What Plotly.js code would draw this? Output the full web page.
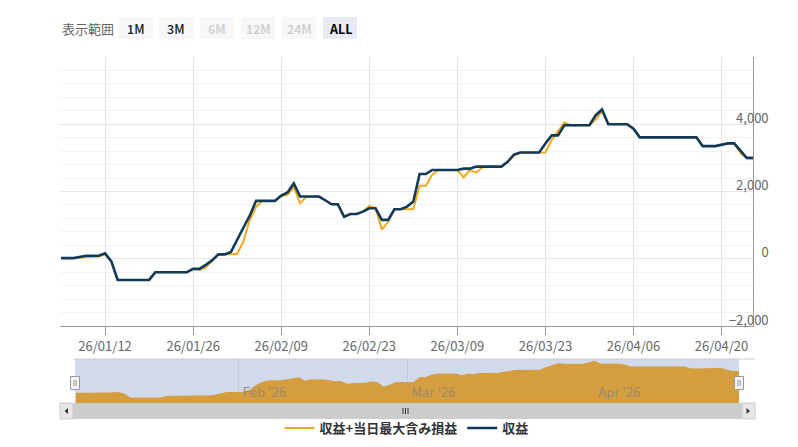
<!DOCTYPE html>
<html><head><meta charset="utf-8">
<script src="https://cdn.plot.ly/plotly-3.0.1.min.js"></script>
<style>html,body{margin:0;padding:0;background:#fff}#chart{width:798px;height:447px}</style>
</head><body><div id="chart"></div>
<script>
// ---- data ----
const dates = ['2026-01-05','2026-01-07','2026-01-09','2026-01-11','2026-01-12','2026-01-13','2026-01-14','2026-01-19','2026-01-20','2026-01-25','2026-01-26','2026-01-27','2026-01-28','2026-01-29','2026-01-30','2026-01-31','2026-02-01','2026-02-02','2026-02-03','2026-02-04','2026-02-05','2026-02-06','2026-02-08','2026-02-09','2026-02-10','2026-02-11','2026-02-12','2026-02-13','2026-02-15','2026-02-16','2026-02-17','2026-02-18','2026-02-19','2026-02-20','2026-02-21','2026-02-22','2026-02-23','2026-02-24','2026-02-25','2026-02-26','2026-02-27','2026-02-28','2026-03-01','2026-03-02','2026-03-03','2026-03-04','2026-03-05','2026-03-06','2026-03-09','2026-03-10','2026-03-11','2026-03-12','2026-03-13','2026-03-16','2026-03-17','2026-03-18','2026-03-19','2026-03-22','2026-03-23','2026-03-24','2026-03-25','2026-03-26','2026-03-27','2026-03-30','2026-03-31','2026-04-01','2026-04-02','2026-04-05','2026-04-06','2026-04-07','2026-04-16','2026-04-17','2026-04-19','2026-04-20','2026-04-21','2026-04-22','2026-04-23','2026-04-24','2026-04-25'];
const profit = [20,20,90,90,160,-80,-630,-630,-400,-400,-300,-300,-180,-50,130,130,200,580,930,1280,1720,1720,1720,1880,1970,2240,1850,1850,1850,1740,1620,1620,1250,1330,1330,1400,1500,1500,1155,1155,1470,1470,1550,1700,2520,2520,2640,2640,2640,2680,2680,2740,2740,2740,2880,3100,3160,3160,3430,3670,3670,3970,3970,3970,4270,4440,4000,4000,3870,3610,3610,3350,3350,3390,3430,3430,3230,3000,3000];
const profitPlusMaxDD = [20,20,50,70,130,-80,-630,-630,-400,-400,-300,-330,-260,-60,130,130,130,150,520,1150,1540,1720,1720,1860,1900,2130,1650,1840,1850,1740,1620,1620,1250,1330,1330,1400,1570,1500,870,1100,1470,1470,1470,1470,2170,2170,2500,2640,2640,2420,2640,2560,2720,2740,2880,3060,3150,3160,3160,3530,3800,4050,3970,3970,4150,4390,4000,4000,3870,3610,3610,3350,3350,3390,3430,3430,3150,2990,2980];
const seriesNames = ['収益+当日最大含み損益','収益'];
const yTickVals = [-2000,0,2000,4000,6000];
const yTickText = ['\u22122,000','0','2,000','4,000',''];
const rangeLabel = '表示範囲';
const rangeButtons = ['1M','3M','6M','12M','24M','ALL'];
const rangeEnabled = [true,true,false,false,false,true];
const selectedButton = 'ALL';
const navMin = -1300, navMax = 4700;
const xRange = ['2026-01-04 20:00','2026-04-25'];

// ---- layout helpers ----
const W=798,H=447,L=60,R=45,T=57,B=0;
const pw=W-L-R, ph=H-T-B;
const px = x => (x-L)/pw;
const py = y => (H-B-y)/ph;
const FONT = "'Noto Sans CJK JP', 'Noto Sans', sans-serif";

const ORANGE='#F2A81D', NAVY='#0F3A5A', NAVFILL='#D49D3D';

const traces = [
  {x:dates, y:profitPlusMaxDD, name:seriesNames[0], type:'scatter', mode:'lines',
   line:{color:ORANGE, width:2}, xaxis:'x', yaxis:'y'},
  {x:dates, y:profit, name:seriesNames[1], type:'scatter', mode:'lines',
   line:{color:NAVY, width:2.6}, xaxis:'x', yaxis:'y'},
  {x:[dates[0], dates[dates.length-1]], y:[navMin, navMin], type:'scatter', mode:'lines',
   line:{width:0, color:NAVFILL}, showlegend:false, hoverinfo:'skip', xaxis:'x2', yaxis:'y2'},
  {x:dates, y:profitPlusMaxDD, type:'scatter', mode:'lines', fill:'tonexty',
   fillcolor:NAVFILL, line:{color:NAVFILL, width:1}, showlegend:false, hoverinfo:'skip',
   xaxis:'x2', yaxis:'y2'}
];

const shapes = [];
const annotations = [];
function rect(x0,y0,x1,y1,fill,lineColor,layer){
  shapes.push({type:'rect', xref:'paper', yref:'paper', x0:px(x0), x1:px(x1), y0:py(y1), y1:py(y0),
    fillcolor:fill, line:{width:lineColor?1:0, color:lineColor||fill}, layer:layer||'above'});
}
function line(x0,y0,x1,y1,color,w,layer){
  shapes.push({type:'line', xref:'paper', yref:'paper', x0:px(x0), x1:px(x1), y0:py(y0), y1:py(y1),
    line:{color:color, width:w||1}, layer:layer||'above'});
}
function tri(pts,color){
  const d = pts.map((p,i)=>(i?'L':'M')+px(p[0])+','+py(p[1])).join(' ')+' Z';
  shapes.push({type:'path', xref:'paper', yref:'paper', path:d, fillcolor:color, line:{width:0}});
}

// navigator background (mask)
rect(75,359,739,403,'#d1daed',null,'below');
line(73,359,755,359,'#cccccc',1);
// scrollbar
rect(60,403,755,419,'#f2f2f2',null);
rect(73,403,742,419,'#cccccc',null);
rect(60,403,73,419,'#e6e6e6','#cccccc');
rect(742,403,755,419,'#e6e6e6','#cccccc');
tri([[68,408],[68,414],[64.5,411]],'#333');
tri([[746.5,408],[746.5,414],[750,411]],'#333');
[403,405.5,408].forEach(x=>line(x,408,x,414,'#333',1));
// navigator handles
[75,739].forEach(cx=>{
  rect(cx-4.5,376.5,cx+4.5,389.5,'#f2f2f2','#999999');
  line(cx-1,380,cx-1,386,'#999999',1);
  line(cx+1,380,cx+1,386,'#999999',1);
});

// range selector
annotations.push({xref:'paper', yref:'paper', x:px(60), y:py(28), xanchor:'left', yanchor:'middle',
  text:rangeLabel, showarrow:false, font:{size:13, color:'#666', family:FONT}});
const btnX = [119,159,200,241,282,323];
rangeButtons.forEach((b,i)=>{
  const sel = b===selectedButton;
  rect(btnX[i],17,btnX[i]+34,39, sel?'#e6ebf5':'#f7f7f7', null);
  annotations.push({xref:'paper', yref:'paper', x:px(btnX[i]+17), y:py(28), xanchor:'center', yanchor:'middle',
    text:b, showarrow:false,
    font:{size:12.5, family:FONT, color: sel?'#000':(rangeEnabled[i]?'#222':'#cccccc'), weight: sel?'bold':500}});
});

const layout = {
  width:W, height:H, margin:{l:L, r:R, t:T, b:B, pad:0},
  paper_bgcolor:'#fff', plot_bgcolor:'rgba(0,0,0,0)',
  font:{family:FONT, color:'#666'},
  hovermode:false, dragmode:false,
  xaxis:{domain:[0,1], anchor:'y', type:'date', range:xRange,
    tick0:'2026-01-12', dtick:14*86400000, tickformat:'%y/%m/%d',
    showgrid:true, gridcolor:'#e6e6e6', gridwidth:1,
    showline:true, linecolor:'#999', linewidth:1,
    ticks:'outside', ticklen:8, tickcolor:'#999', tickwidth:1,
    tickfont:{size:13, color:'#666'}, zeroline:false, fixedrange:true, automargin:false},
  yaxis:{domain:[py(326),1], anchor:'x', side:'right', range:[-2000,6000],
    tickmode:'array', tickvals:yTickVals, ticktext:yTickText,
    showgrid:true, gridcolor:'#e6e6e6', gridwidth:1,
    minor:{dtick:400, tick0:0, showgrid:true, gridcolor:'#f3f3f3', ticks:''},
    showline:true, linecolor:'#999', linewidth:1, ticks:'',
    ticklabelposition:'inside', ticklabelstandoff:-16, ticklabelshift:-6, ticklabeloverflow:'allow',
    tickfont:{size:13, color:'#666'}, zeroline:false, fixedrange:true, automargin:false},
  xaxis2:{domain:[px(75), px(739)], anchor:'y2', type:'date', range:xRange,
    tick0:'2026-01-01', dtick:'M1', tickformat:"%b '%y",
    showgrid:true, gridcolor:'#c0c9db', ticks:'', showline:false, zeroline:false,
    ticklabelposition:'inside right', ticklabelshift:4, ticklabelstandoff:-3, ticklabeloverflow:'allow',
    tickfont:{size:13, color:'#9c8a70'}, fixedrange:true, automargin:false},
  yaxis2:{domain:[py(403), py(359)], anchor:'x2', range:[navMin, navMax],
    showgrid:false, showticklabels:false, zeroline:false, showline:false, ticks:'', fixedrange:true},
  showlegend:true,
  legend:{orientation:'h', x:0.5, xanchor:'center', y:py(428), yanchor:'middle', traceorder:'normal',
    font:{size:13, color:'#333', weight:'bold', family:FONT}, itemwidth:30, bgcolor:'rgba(0,0,0,0)'},
  shapes:shapes, annotations:annotations
};

Plotly.newPlot('chart', traces, layout, {displayModeBar:false, staticPlot:true});
</script>
</body></html>
